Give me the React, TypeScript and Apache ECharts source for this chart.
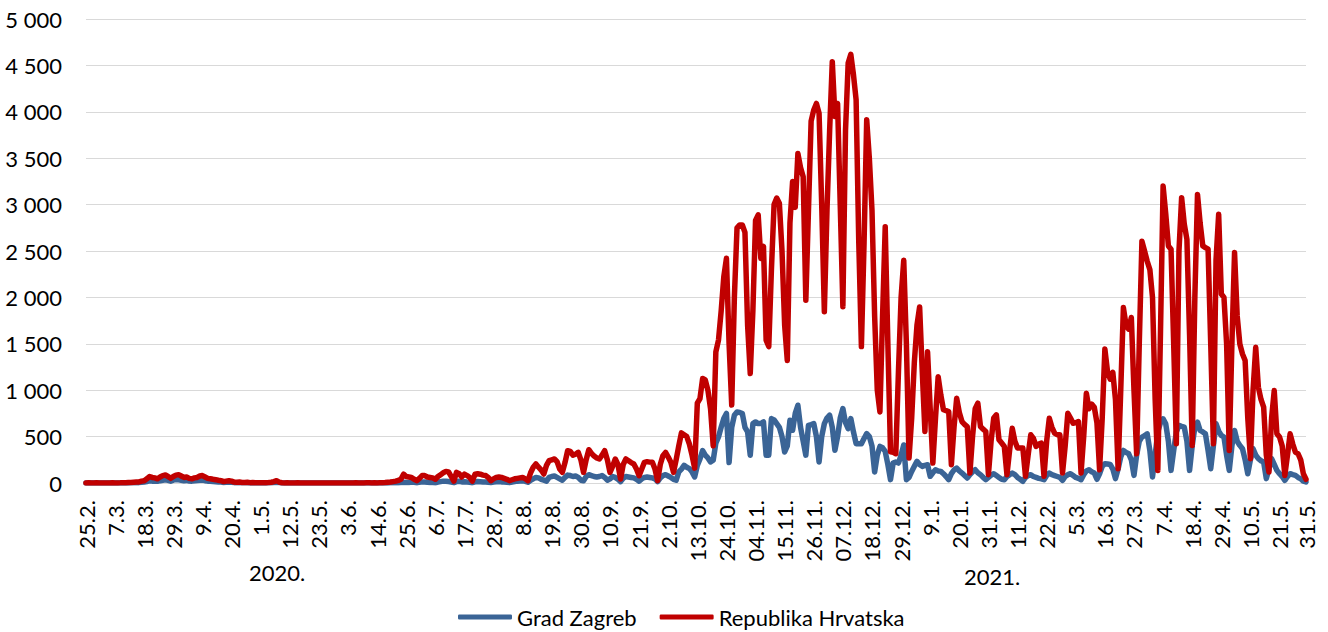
import React, { useEffect, useRef } from "react";
import * as echarts from "echarts";

// Tick labels shown every 11 days plus the final day
const tickLabels = [
  "25.2.", "7.3.", "18.3.", "29.3.", "9.4.", "20.4.", "1.5.", "12.5.", "23.5.", "3.6.",
  "14.6.", "25.6.", "6.7.", "17.7.", "28.7.", "8.8.", "19.8.", "30.8.", "10.9.", "21.9.",
  "2.10.", "13.10.", "24.10.", "04.11.", "15.11.", "26.11.", "07.12.", "18.12.", "29.12.", "9.1.",
  "20.1.", "31.1.", "11.2.", "22.2.", "5.3.", "16.3.", "27.3.", "7.4.", "18.4.", "29.4.",
  "10.5.", "21.5.", "31.5.",
];
const tickStep = 11;
const yearLabels = ["2020.", "2021."];
const seriesNames = ["Grad Zagreb", "Republika Hrvatska"];

// Daily new cases, 25.2.2020 – 31.5.2021 (462 days)
const hrvatska = [
  1, 2, 0, 0, 2, 1, 1, 0, 1, 0,
  2, 1, 1, 2, 4, 3, 6, 5, 8, 10,
  12, 20, 25, 45, 70, 60, 55, 45, 65, 80,
  86, 70, 50, 70, 85, 90, 75, 60, 65, 50,
  45, 55, 60, 75, 80, 65, 50, 45, 40, 36,
  30, 25, 15, 20, 25, 20, 10, 8, 10, 6,
  5, 7, 4, 5, 3, 2, 4, 2, 3, 5,
  8, 15, 25, 10, 3, 1, 2, 1, 1, 0,
  2, 1, 0, 1, 0, 0, 1, 0, 1, 0,
  0, 1, 0, 0, 1, 0, 0, 1, 0, 0,
  1, 0, 2, 1, 0, 1, 2, 3, 1, 2,
  1, 2, 3, 5, 8, 10, 15, 20, 28, 40,
  95, 70, 65, 60, 40, 25, 50, 80, 80, 65,
  60, 55, 40, 70, 90, 110, 125, 120, 70, 20,
  115, 100, 65, 95, 80, 60, 20, 95, 100, 95,
  85, 80, 60, 25, 45, 60, 65, 60, 50, 40,
  25, 35, 45, 50, 55, 60, 45, 25, 110, 170,
  205, 170, 140, 97, 190, 241, 250, 259, 230, 150,
  115, 220, 348, 340, 300, 310, 330, 250, 115, 250,
  359, 320, 290, 270, 259, 300, 348, 250, 115, 180,
  259, 200, 43, 200, 259, 240, 220, 205, 150, 79,
  150, 223, 230, 225, 223, 150, 25, 200, 295, 330,
  280, 223, 115, 250, 400, 540, 520, 500, 420, 300,
  160, 860, 910, 1126, 1110, 1000, 800, 400, 1414, 1540,
  1850, 2220, 2421, 1500, 840, 2000, 2750, 2780, 2780, 2700,
  1700, 1180, 1860, 2830, 2890, 2420, 2550, 1540, 1470, 2300,
  3000, 3070, 3015, 2500, 1700, 1320, 2800, 3250, 2970, 3550,
  3400, 3300, 1970, 2940, 3900, 4020, 4090, 3985, 3000, 1845,
  2940, 3800, 4540, 3950, 4090, 3000, 1900, 3800, 4525, 4620,
  4400, 4130, 2600, 1470, 2580, 3915, 3500, 2940, 1800, 1000,
  766, 1800, 2760, 1500, 335, 330, 316, 1200, 2000, 2400,
  1500, 270, 700, 1300, 1700, 1897, 1200, 555, 1414, 800,
  215, 700, 1145, 950, 790, 780, 770, 197, 600, 913,
  760, 662, 630, 608, 107, 500, 800, 860, 608, 580,
  555, 90, 450, 700, 734, 465, 430, 394, 90, 350,
  590, 450, 376, 376, 376, 72, 300, 519, 480, 394,
  420, 430, 72, 450, 698, 600, 537, 520, 519, 107,
  400, 752, 700, 644, 650, 662, 107, 500, 967, 800,
  850, 816, 650, 143, 700, 1443, 1200, 1120, 1192, 900,
  154, 1000, 1890, 1700, 1658, 1783, 1000, 315, 1500, 2606,
  2500, 2390, 2300, 2000, 900, 136, 1600, 3200, 2900, 2555,
  2520, 1500, 423, 2500, 3075, 2790, 2625, 1600, 405, 2000,
  3110, 2800, 2555, 2537, 2520, 1500, 423, 2400, 2896, 2036,
  2000, 1500, 351, 1500, 2484, 1800, 1498, 1390, 1319, 700,
  262, 1000, 1462, 1032, 900, 817, 300, 118, 700, 996,
  530, 495, 400, 82, 300, 530, 420, 333, 315, 250,
  100, 40,
];

const zagreb = [
  0, 0, 0, 0, 0, 0, 0, 0, 0, 0,
  0, 0, 1, 0, 1, 2, 1, 2, 2, 3,
  4, 8, 10, 15, 25, 20, 22, 18, 25, 30,
  35, 28, 20, 30, 38, 35, 30, 25, 28, 22,
  20, 25, 28, 30, 32, 25, 20, 18, 15, 14,
  12, 10, 6, 8, 10, 8, 4, 3, 4, 2,
  2, 3, 1, 2, 1, 1, 2, 1, 1, 2,
  3, 6, 8, 4, 1, 0, 1, 0, 0, 0,
  1, 0, 0, 0, 0, 0, 0, 0, 0, 0,
  0, 0, 0, 0, 0, 0, 0, 0, 0, 0,
  0, 0, 1, 0, 0, 0, 1, 1, 0, 1,
  0, 1, 0, 2, 1, 3, 2, 4, 3, 5,
  8, 6, 5, 10, 7, 3, 9, 12, 10, 8,
  6, 5, 3, 10, 15, 20, 18, 15, 10, 4,
  15, 18, 12, 14, 10, 8, 3, 12, 15, 14,
  12, 10, 8, 4, 10, 14, 15, 12, 10, 8,
  4, 10, 15, 20, 22, 25, 18, 8, 30, 45,
  60, 55, 40, 30, 20, 60, 70, 75, 60, 45,
  30, 60, 85, 80, 70, 75, 60, 30, 25, 70,
  90, 80, 70, 65, 70, 80, 60, 30, 45, 70,
  60, 40, 15, 50, 70, 65, 60, 55, 40, 20,
  45, 60, 65, 60, 55, 45, 15, 55, 80, 90,
  75, 60, 40, 30, 120, 150, 190, 170, 155, 120,
  65, 190, 260, 350, 300, 270, 227, 245, 430, 496,
  600, 694, 750, 220, 600, 730, 766, 760, 748, 600,
  550, 300, 640, 658, 640, 640, 658, 300, 300, 694,
  680, 640, 600, 500, 334, 400, 676, 568, 750, 838,
  600, 450, 300, 622, 630, 640, 500, 227, 500, 640,
  700, 730, 600, 352, 500, 700, 802, 650, 586, 694,
  550, 424, 424, 424, 480, 532, 500, 400, 119, 300,
  394, 380, 340, 200, 36, 215, 227, 215, 300, 410,
  36, 60, 125, 180, 233, 200, 179, 190, 197, 72,
  110, 143, 130, 125, 100, 70, 36, 100, 140, 161,
  130, 107, 80, 54, 90, 120, 143, 110, 90, 60,
  36, 60, 85, 100, 80, 60, 40, 36, 70, 90,
  107, 90, 60, 40, 18, 60, 80, 90, 70, 60,
  50, 45, 36, 80, 107, 90, 80, 70, 60, 29,
  70, 90, 100, 80, 60, 50, 36, 90, 130, 143,
  120, 107, 40, 100, 180, 208, 205, 200, 150, 47,
  150, 280, 351, 330, 315, 250, 82, 300, 450, 495,
  510, 530, 350, 65, 300, 550, 650, 692, 638, 450,
  136, 350, 550, 620, 610, 602, 450, 136, 400, 600,
  656, 566, 550, 530, 350, 154, 400, 638, 560, 512,
  495, 300, 136, 400, 566, 450, 405, 369, 250, 100,
  250, 369, 300, 262, 240, 226, 47, 150, 262, 200,
  136, 100, 70, 29, 70, 100, 90, 82, 60, 47,
  20, 11,
];

function buildCategories(n: number): string[] {
  const out: string[] = [];
  const d = new Date(2020, 1, 25);
  for (let i = 0; i < n; i++) {
    out.push(`${d.getFullYear()}-${d.getMonth() + 1}-${d.getDate()}`);
    d.setDate(d.getDate() + 1);
  }
  return out;
}

const FONT = "Lato";
const FS = 22;

export default function App() {
  const ref = useRef<HTMLDivElement>(null);

  useEffect(() => {
    if (!ref.current) return;
    const chart = echarts.init(ref.current, undefined, { renderer: "svg" });
    const n = hrvatska.length;
    const categories = buildCategories(n);
    const last = n - 1;

    const option: any = {
      animation: false,
      backgroundColor: "#ffffff",
      grid: { left: 86, right: 22, top: 19, bottom: 149, containLabel: false },
      legend: {
        data: seriesNames,
        left: 453,
        top: 601,
        icon: "roundRect",
        itemWidth: 54,
        itemHeight: 5,
        itemGap: 23,
        textStyle: { fontFamily: FONT, fontSize: FS, color: "#000" },
      },
      xAxis: {
        type: "category",
        data: categories,
        boundaryGap: false,
        axisLine: { show: true, lineStyle: { color: "#d9d9d9", width: 1 } },
        axisTick: { show: false },
        splitLine: { show: false },
        axisLabel: {
          rotate: 90,
          margin: 17,
          fontFamily: FONT,
          fontSize: FS,
          color: "#000",
          interval: (index: number) => index % tickStep === 0 || index === last,
          formatter: (_v: string, index: number) =>
            index === last ? tickLabels[tickLabels.length - 1] : tickLabels[Math.round(index / tickStep)],
        },
      },
      yAxis: {
        type: "value",
        min: 0,
        max: 5000,
        interval: 500,
        axisLine: { show: false },
        axisTick: { show: false },
        splitLine: { lineStyle: { color: "#d9d9d9", width: 1 } },
        axisLabel: {
          margin: 24,
          fontFamily: FONT,
          fontSize: FS,
          color: "#000",
          formatter: (v: number) =>
            v >= 1000 ? `${Math.floor(v / 1000)} ${String(v % 1000).padStart(3, "0")}` : String(v),
        },
      },
      graphic: [
        {
          type: "text",
          left: 249,
          top: 561,
          style: { text: yearLabels[0], font: `${FS}px ${FONT}`, fill: "#000" },
        },
        {
          type: "text",
          left: 964,
          top: 565,
          style: { text: yearLabels[1], font: `${FS}px ${FONT}`, fill: "#000" },
        },
      ],
      series: [
        {
          name: seriesNames[0],
          type: "line",
          data: zagreb,
          symbol: "none",
          color: "#3A6496",
          lineStyle: { width: 5.5, color: "#3A6496", cap: "round", join: "round" },
          emphasis: { disabled: true },
          z: 2,
        },
        {
          name: seriesNames[1],
          type: "line",
          data: hrvatska,
          symbol: "none",
          color: "#C00000",
          lineStyle: { width: 5.5, color: "#C00000", cap: "round", join: "round" },
          emphasis: { disabled: true },
          z: 3,
        },
      ],
    };
    chart.setOption(option);
    return () => chart.dispose();
  }, []);

  return (
    <div
      ref={ref}
      style={{ position: "fixed", left: 0, top: 0, width: 1328, height: 632, background: "#fff" }}
    />
  );
}
